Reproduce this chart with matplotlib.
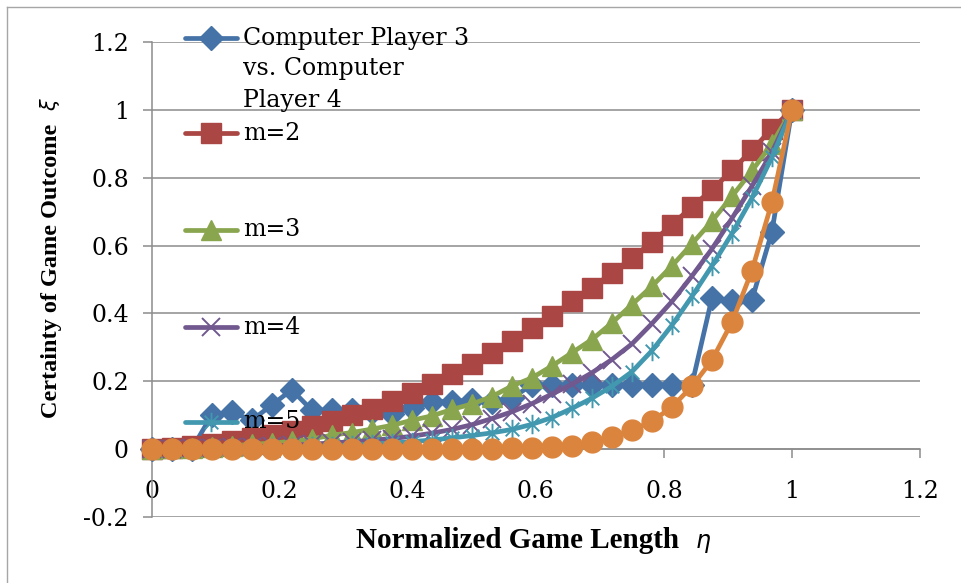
import matplotlib
matplotlib.use("Agg")
import matplotlib.pyplot as plt
from matplotlib.lines import Line2D
from matplotlib.path import Path

# normalized game length (33 samples, step 1/32)
eta = [0.0, 0.03125, 0.0625, 0.09375, 0.125, 0.15625, 0.1875, 0.21875,
       0.25, 0.28125, 0.3125, 0.34375, 0.375, 0.40625, 0.4375, 0.46875,
       0.5, 0.53125, 0.5625, 0.59375, 0.625, 0.65625, 0.6875, 0.71875,
       0.75, 0.78125, 0.8125, 0.84375, 0.875, 0.90625, 0.9375, 0.96875, 1.0]

cp34 = [0.0, 0.0, 0.0, 0.10, 0.11, 0.085, 0.13, 0.175, 0.115, 0.115, 0.115,
        0.11, 0.105, 0.12, 0.14, 0.14, 0.145, 0.14, 0.15, 0.19, 0.19, 0.19,
        0.19, 0.19, 0.19, 0.19, 0.19, 0.19, 0.445, 0.436, 0.44, 0.641, 1.0]
m2 = [0.0, 0.004, 0.01, 0.016, 0.024, 0.032, 0.042, 0.054, 0.068, 0.083,
      0.1, 0.117, 0.142, 0.166, 0.193, 0.222, 0.252, 0.284, 0.318, 0.357,
      0.392, 0.436, 0.475, 0.519, 0.563, 0.61, 0.661, 0.715, 0.764, 0.822,
      0.881, 0.945, 1.0]
m3 = [0.0, 0.002, 0.004, 0.007, 0.01, 0.014, 0.018, 0.023, 0.03, 0.041,
      0.049, 0.059, 0.07, 0.085, 0.098, 0.117, 0.133, 0.155, 0.186, 0.21,
      0.245, 0.284, 0.323, 0.372, 0.426, 0.48, 0.54, 0.605, 0.672, 0.745,
      0.82, 0.9, 1.0]
m4 = [0.0, 0.001, 0.002, 0.003, 0.005, 0.007, 0.009, 0.012, 0.015, 0.018,
      0.022, 0.026, 0.031, 0.038, 0.047, 0.058, 0.072, 0.09, 0.11, 0.134,
      0.162, 0.191, 0.225, 0.264, 0.31, 0.37, 0.435, 0.51, 0.59, 0.68,
      0.775, 0.875, 1.0]
m5 = [0.0, 0.0, 0.001, 0.002, 0.003, 0.004, 0.005, 0.006, 0.008, 0.01,
      0.012, 0.015, 0.018, 0.022, 0.027, 0.033, 0.04, 0.048, 0.058, 0.073,
      0.093, 0.12, 0.15, 0.185, 0.228, 0.29, 0.365, 0.45, 0.54, 0.635,
      0.74, 0.86, 1.0]
m6 = [0.0, 0.0, 0.0, 0.0, 0.0, 0.0, 0.0, 0.0, 0.0, 0.0, 0.0, 0.0, 0.0,
      0.0, 0.0, 0.0, 0.0, 0.001, 0.002, 0.003, 0.005, 0.01, 0.02, 0.036,
      0.056, 0.082, 0.124, 0.185, 0.262, 0.374, 0.526, 0.728, 1.0]

labels = ["Computer Player 3\nvs. Computer\nPlayer 4", "m=2", "m=3", "m=4", "m=5"]
xticks = [0, 0.2, 0.4, 0.6, 0.8, 1, 1.2]
xticklabels = ["0", "0.2", "0.4", "0.6", "0.8", "1", "1.2"]
yticks = [-0.2, 0, 0.2, 0.4, 0.6, 0.8, 1, 1.2]
yticklabels = ["-0.2", "0", "0.2", "0.4", "0.6", "0.8", "1", "1.2"]

GRID = "#8c8c8c"
W, H = 962, 583

# Excel "star" marker: an X with a vertical bar
star = Path([(0, -1), (0, 1), (-0.7, -0.7), (0.7, 0.7), (-0.7, 0.7), (0.7, -0.7)],
            [Path.MOVETO, Path.LINETO] * 3)

fig = plt.figure(figsize=(W / 100, H / 100), dpi=100)
ax = fig.add_axes([151.7 / W, 1 - 517 / H, (920 - 151.7) / W, (517 - 42) / H])

styles = [
    (cp34, "#4572A7", "D", 12.5, 1.0),
    (m2, "#AA4643", "s", 14.5, 1.0),
    (m3, "#89A54E", "^", 15, 1.0),
    (m4, "#71588F", "x", 13, 1.4),
    (m5, "#4198AF", star, 14, 1.4),
    (m6, "#DB843D", "o", 15, 1.0),
]
for ys, color, mk, ms, mew in styles:
    ax.plot(eta, ys, color=color, lw=3.4, marker=mk, ms=ms,
            mfc=color, mec=color, mew=mew, solid_capstyle="round",
            clip_on=False, zorder=3)

ax.set_xlim(0, 1.2)
ax.set_ylim(-0.2, 1.2)
ax.set_xticks(xticks)
ax.set_xticklabels(xticklabels)
ax.set_yticks(yticks)
ax.set_yticklabels(yticklabels)

ax.grid(axis="y", color=GRID, lw=1.1, zorder=0)
ax.set_axisbelow(True)
for s in ["top", "right"]:
    ax.spines[s].set_visible(False)
ax.spines["left"].set_color(GRID)
ax.spines["left"].set_linewidth(1.1)
ax.spines["bottom"].set_position(("data", 0))
ax.spines["bottom"].set_color(GRID)
ax.spines["bottom"].set_linewidth(1.1)

ax.tick_params(axis="both", color=GRID, width=1.1, length=6.5, direction="out")
ax.tick_params(axis="x", pad=16)
ax.tick_params(axis="y", pad=10)
for t in ax.get_xticklabels() + ax.get_yticklabels():
    t.set_fontfamily("DejaVu Serif")
    t.set_fontsize(17)

# axis titles
fig.text(356 / W, 1 - 541 / H, "Normalized Game Length", ha="left",
         va="center", fontfamily="Liberation Serif", fontweight="bold",
         fontsize=21)
fig.text(695 / W, 1 - 543 / H, r"$\eta$", ha="left", va="center", fontsize=17)
fig.text(52 / W, 1 - 271 / H, "Certainty of Game Outcome", ha="center",
         va="center", rotation=90, fontfamily="Liberation Serif",
         fontweight="bold", fontsize=17.5)
fig.text(50 / W, 1 - 104 / H, r"$\xi$", ha="center", va="center",
         rotation=90, fontsize=15)

# legend drawn by hand (Excel style, handle aligned with first text line)
leg_y = [38, 133, 230, 327, 422]
for (ys, color, mk, ms, mew), lab, py in zip(styles, labels, leg_y):
    yf = 1 - py / H
    fig.add_artist(Line2D([185 / W, 237 / W], [yf, yf], color=color, lw=3.4,
                          solid_capstyle="round", zorder=5))
    fig.add_artist(Line2D([211 / W], [yf], marker=mk, ms=ms, color=color,
                          mfc=color, mec=color, mew=mew, zorder=5))
    for k, line in enumerate(lab.split("\n")):
        fig.text(243 / W, 1 - (py + 31 * k) / H, line, ha="left",
                 va="center", fontfamily="DejaVu Serif", fontsize=17, zorder=6)

# outer chart frame (left and top edges visible)
fig.add_artist(Line2D([7 / W, 7 / W], [0, 1 - 7 / H], color="#a6a6a6", lw=1.0))
fig.add_artist(Line2D([7 / W, 1], [1 - 7 / H, 1 - 7 / H], color="#a6a6a6", lw=1.0))

fig.savefig("out.png", dpi=100)
